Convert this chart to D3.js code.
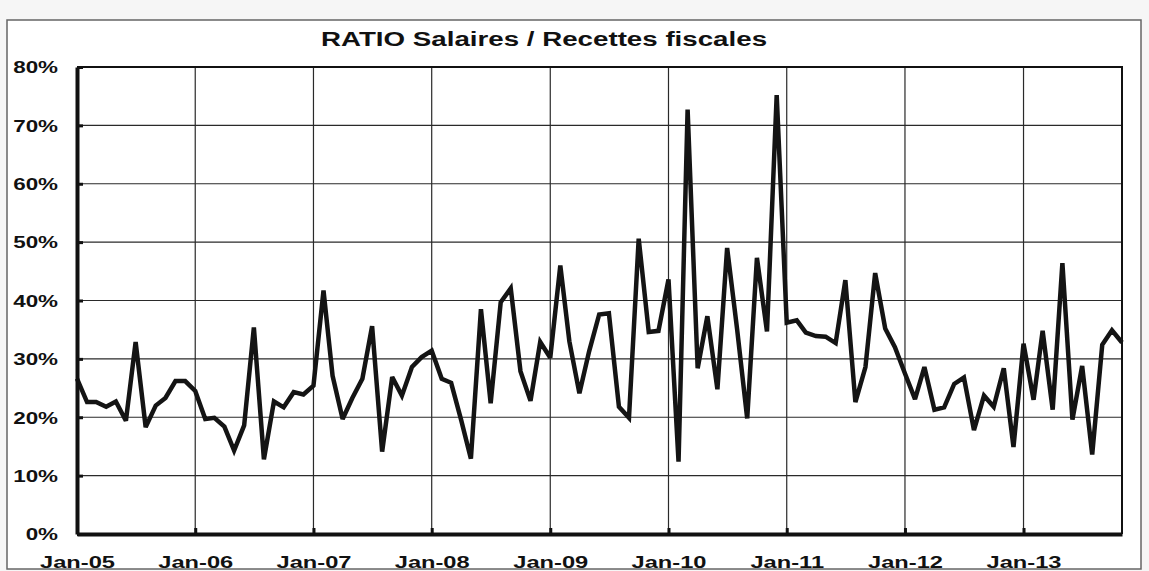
<!DOCTYPE html>
<html>
<head>
<meta charset="utf-8">
<script src="https://cdn.jsdelivr.net/npm/d3@7"></script>
<style>
  html, body { margin: 0; padding: 0; background: #f6f6f6; }
  svg { display: block; }
  text { font-family: "Liberation Sans", Arial, sans-serif; font-weight: bold; fill: #111; }
</style>
</head>
<body>
<svg id="chart" width="1149" height="571"></svg>
<script>
// monthly ratio, Jan-05 .. Nov-13 (percent)
var ratio = [
    26.6, 22.6, 22.6, 21.8, 22.7, 19.4, 32.9, 18.3, 22.0, 23.3, 26.2, 26.2,
    24.5, 19.7, 19.9, 18.4, 14.3, 18.6, 35.4, 12.8, 22.7, 21.7, 24.3, 23.9,
    25.4, 41.7, 27.1, 19.7, 23.3, 26.6, 35.6, 14.1, 26.9, 23.7, 28.6, 30.3,
    31.4, 26.6, 25.9, 19.5, 12.9, 38.5, 22.4, 39.7, 42.1, 27.9, 22.8, 32.9,
    30.2, 46.0, 33.0, 24.1, 31.3, 37.6, 37.8, 21.8, 19.9, 50.6, 34.6, 34.8,
    43.6, 12.4, 72.7, 28.4, 37.3, 24.8, 49.0, 35.0, 19.8, 47.3, 34.7, 75.2,
    36.2, 36.6, 34.5, 33.9, 33.8, 32.7, 43.5, 22.6, 28.6, 44.7, 35.2, 32.0,
    27.5, 23.1, 28.6, 21.3, 21.7, 25.7, 26.8, 17.8, 23.7, 21.8, 28.4, 14.9,
    32.6, 23.0, 34.8, 21.3, 46.4, 19.6, 28.8, 13.6, 32.4, 34.9, 32.8
];
var months = d3.timeMonth.range(new Date(2005, 0, 1), new Date(2013, 11, 1));
var tickLabels = ["Jan-05", "Jan-06", "Jan-07", "Jan-08", "Jan-09", "Jan-10", "Jan-11", "Jan-12", "Jan-13"];
var yTicks = [0, 10, 20, 30, 40, 50, 60, 70, 80];
var title = "RATIO Salaires / Recettes fiscales";

var svg = d3.select("#chart");
var margin = { top: 67, right: 27, bottom: 37, left: 77 };
var width = 1149, height = 571;
var plotW = width - margin.left - margin.right;
var plotH = height - margin.top - margin.bottom;

// outer frame
svg.append("rect")
    .attr("x", 7).attr("y", 20)
    .attr("width", 1134).attr("height", 549)
    .attr("fill", "#fff")
    .attr("stroke", "#666")
    .attr("stroke-width", 1.5);

svg.append("text")
    .attr("transform", "translate(544,46) scale(1.32,1)")
    .attr("text-anchor", "middle")
    .style("font-size", "21px")
    .text(title);

var janDates = tickLabels.map(function (d, i) { return new Date(2005 + i, 0, 1); });

var x = d3.scaleTime()
    .domain([months[0], months[months.length - 1]])
    .range([0, plotW]);
var y = d3.scaleLinear()
    .domain([0, 80])
    .range([plotH, 0]);

var plot = svg.append("g")
    .attr("transform", "translate(" + margin.left + "," + margin.top + ")");

// grid
plot.append("g").attr("class", "grid")
    .selectAll("line.h")
    .data(yTicks.slice(1, -1))
    .enter().append("line")
    .attr("x1", 0).attr("x2", plotW)
    .attr("y1", function (d) { return y(d); })
    .attr("y2", function (d) { return y(d); })
    .attr("stroke", "#2a2a2a").attr("stroke-width", 1.2);
plot.select("g.grid")
    .selectAll("line.v")
    .data(janDates.slice(1))
    .enter().append("line")
    .attr("y1", 0).attr("y2", plotH)
    .attr("x1", function (d) { return x(d); })
    .attr("x2", function (d) { return x(d); })
    .attr("stroke", "#2a2a2a").attr("stroke-width", 1.2);

// top / right border
plot.append("path")
    .attr("d", "M0,0H" + plotW + "V" + plotH)
    .attr("fill", "none")
    .attr("stroke", "#111")
    .attr("stroke-width", 2);

// series
var line = d3.line()
    .x(function (d, i) { return x(months[i]); })
    .y(function (d) { return y(d); });
plot.append("path")
    .datum(ratio)
    .attr("d", line)
    .attr("fill", "none")
    .attr("stroke", "#141414")
    .attr("stroke-width", 4.5)
    .attr("stroke-linejoin", "miter")
    .attr("stroke-miterlimit", 3);

// axes
var yAxis = d3.axisLeft(y)
    .tickValues(yTicks)
    .tickFormat(function (d) { return d + "%"; })
    .tickSize(-6).tickSizeOuter(0);
var yGroup = plot.append("g").attr("id", "y-axis").call(yAxis);
yGroup.attr("font-size", null).attr("font-family", null);
yGroup.select(".domain").attr("stroke", "#111").attr("stroke-width", 4);
yGroup.selectAll(".tick line").attr("stroke", "#111").attr("stroke-width", 3);
yGroup.selectAll(".tick text")
    .attr("x", 0).attr("dy", "0.36em")
    .attr("transform", "translate(-19,0) scale(1.4,1)")
    .style("font-size", "16px")
    .style("fill", "#111");

var xAxis = d3.axisBottom(x)
    .tickValues(janDates)
    .tickFormat(function (d, i) { return tickLabels[i]; })
    .tickSize(-6).tickSizeOuter(0);
var xGroup = plot.append("g").attr("id", "x-axis")
    .attr("transform", "translate(0," + plotH + ")")
    .call(xAxis);
xGroup.attr("font-size", null).attr("font-family", null);
xGroup.select(".domain").attr("stroke", "#111").attr("stroke-width", 4);
xGroup.selectAll(".tick line").attr("stroke", "#111").attr("stroke-width", 3);
xGroup.selectAll(".tick text")
    .attr("y", 0).attr("dy", 0)
    .attr("transform", "translate(0,34) scale(1.48,1)")
    .style("font-size", "16px")
    .style("fill", "#111");
</script>
</body>
</html>
